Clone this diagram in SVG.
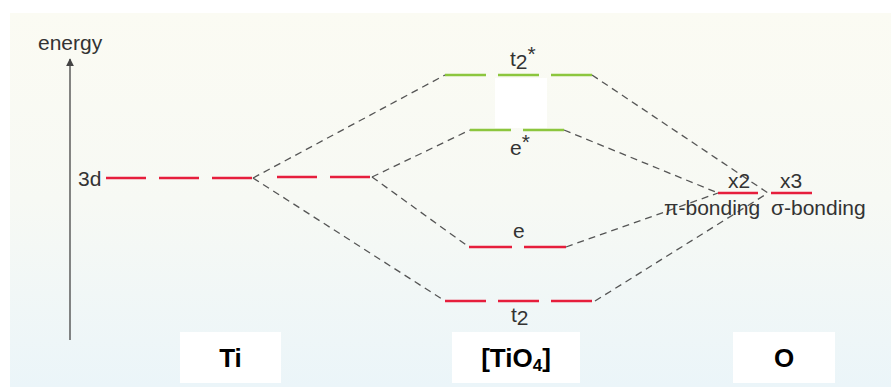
<svg xmlns="http://www.w3.org/2000/svg" width="891" height="387" viewBox="0 0 891 387">
  <defs>
    <linearGradient id="bg" x1="0" y1="0" x2="0" y2="1">
      <stop offset="0" stop-color="#fbfbf3"/>
      <stop offset="0.5" stop-color="#f7f9f4"/>
      <stop offset="1" stop-color="#ebf5f9"/>
    </linearGradient>
    <marker id="arrow" viewBox="0 0 10 10" refX="9" refY="5" markerWidth="8" markerHeight="8" markerUnits="userSpaceOnUse" orient="auto">
      <path d="M0,0 L10,5 L0,10 z" fill="#444"/>
    </marker>
  </defs>
  <style>
    .lbl { font-family: "Liberation Sans", Arial, sans-serif; font-size: 21px; fill: #333; }
    .big { font-family: "Liberation Sans", Arial, sans-serif; font-size: 26px; font-weight: bold; fill: #000; text-anchor: middle; }
    .red { stroke: #e61e3c; stroke-width: 2.5; fill: none; }
    .green { stroke: #8cc63e; stroke-width: 2.5; fill: none; }
    .conn { stroke: #555; stroke-width: 1.3; stroke-dasharray: 7 5; fill: none; }
    .box { fill: #ffffff; }
  </style>

  <rect x="0" y="0" width="891" height="387" fill="#ffffff"/>
  <rect x="10" y="13" width="881" height="374" fill="url(#bg)"/>

  <g id="axis">
    <line x1="70" y1="340" x2="70" y2="59" stroke="#444" stroke-width="1.3" marker-end="url(#arrow)"/>
    <text class="lbl" x="38" y="50">energy</text>
  </g>

  <g id="connectors">
    <line class="conn" x1="253" y1="178" x2="445" y2="75"/>
    <line class="conn" x1="253" y1="178" x2="445" y2="301"/>
    <line class="conn" x1="372" y1="177" x2="470" y2="130"/>
    <line class="conn" x1="372" y1="177" x2="469" y2="247"/>
    <line class="conn" x1="592" y1="75" x2="768" y2="193"/>
    <line class="conn" x1="595" y1="301" x2="768" y2="193"/>
    <line class="conn" x1="564" y1="130" x2="718" y2="193"/>
    <line class="conn" x1="566" y1="247" x2="718" y2="193"/>
  </g>

  <g id="ti-3d">
    <text class="lbl" x="78" y="186">3d</text>
    <line class="red" x1="106" y1="178" x2="253" y2="178" stroke-dasharray="40 13"/>
    <line class="red" x1="277" y1="177" x2="372" y2="177" stroke-dasharray="40 13"/>
  </g>

  <g id="t2-star">
    <line class="green" x1="445" y1="75" x2="592" y2="75" stroke-dasharray="41 12"/>
    <text class="lbl" x="510" y="66">t<tspan dy="3">2</tspan><tspan dy="-8">*</tspan></text>
    <rect class="box" x="495" y="78" width="52" height="50"/>
  </g>

  <g id="e-star">
    <line class="green" x1="470" y1="130" x2="564" y2="130" stroke-dasharray="41 12"/>
    <text class="lbl" x="510" y="155">e<tspan dy="-6">*</tspan></text>
  </g>

  <g id="e">
    <line class="red" x1="469" y1="247" x2="566" y2="247" stroke-dasharray="43 12"/>
    <text class="lbl" x="513" y="238">e</text>
  </g>

  <g id="t2">
    <line class="red" x1="445" y1="301" x2="592" y2="301" stroke-dasharray="41 12"/>
    <text class="lbl" x="511" y="322">t<tspan dy="3">2</tspan></text>
  </g>

  <g id="o-pi">
    <line class="red" x1="718" y1="193" x2="758" y2="193"/>
    <text class="lbl" x="728" y="188">x2</text>
    <text class="lbl" x="664" y="215">π-bonding</text>
  </g>

  <g id="o-sigma">
    <line class="red" x1="771" y1="193" x2="812" y2="193"/>
    <text class="lbl" x="780" y="188">x3</text>
    <text class="lbl" x="771" y="215">σ-bonding</text>
  </g>

  <g id="label-ti">
    <rect class="box" x="180" y="332" width="101" height="51"/>
    <text class="big" x="230.5" y="367">Ti</text>
  </g>

  <g id="label-tio4">
    <rect class="box" x="452" y="332" width="128" height="51"/>
    <text class="big" x="516" y="367">[TiO<tspan font-size="17" dy="4">4</tspan><tspan dy="-4">]</tspan></text>
  </g>

  <g id="label-o">
    <rect class="box" x="733" y="332" width="102" height="51"/>
    <text class="big" x="784" y="367">O</text>
  </g>
</svg>
